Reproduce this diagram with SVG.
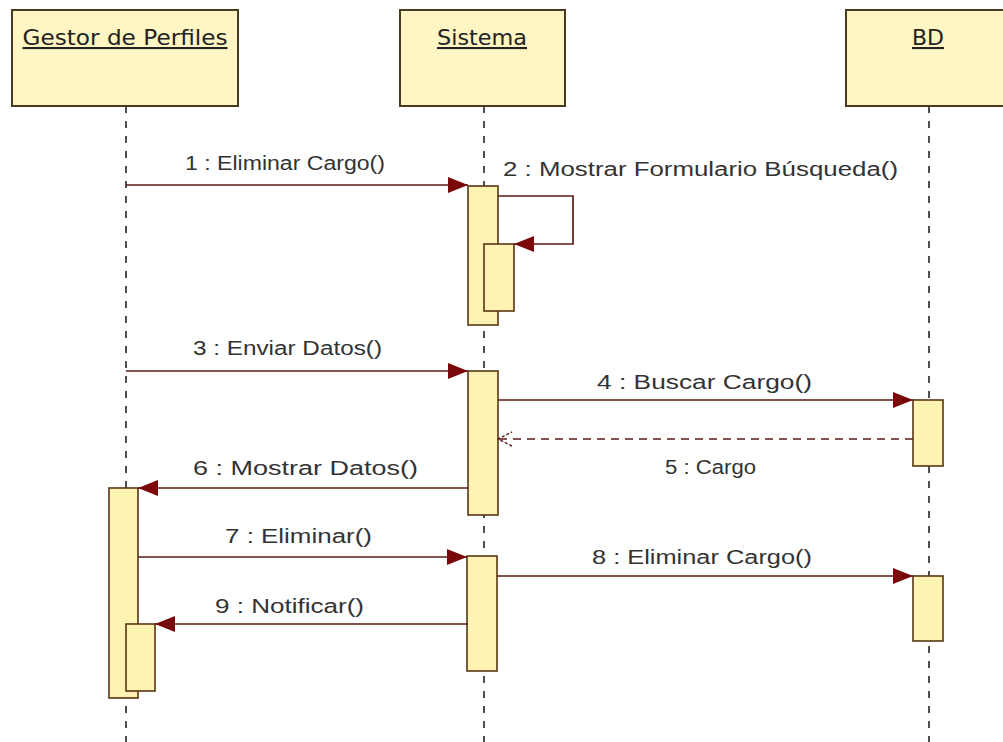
<svg xmlns="http://www.w3.org/2000/svg" width="1003" height="742" viewBox="0 0 1003 742">
<style>
.head{fill:#fff6c4;stroke:#4a3a1e;stroke-width:2}
.bar{fill:#fff3b4;stroke:#5a3512;stroke-width:1.6}
.life{stroke:#222;stroke-width:1.6;stroke-dasharray:7 8;fill:none}
.msg{stroke:#5a1a14;stroke-width:1.7;fill:none}
.ret{stroke:#5a1a14;stroke-width:1.6;fill:none;stroke-dasharray:8 6}
.ht{font-family:"DejaVu Sans",Tahoma,sans-serif;font-size:21px;fill:#222;text-decoration:underline;text-anchor:middle}
.lt{font-family:"Liberation Sans",Arial,sans-serif;font-size:20px;fill:#333}
</style>
<defs>
<marker id="fa" viewBox="0 0 20 16" refX="20" refY="8" markerWidth="20" markerHeight="16" markerUnits="userSpaceOnUse" orient="auto">
<path d="M0,0 L20,8 L0,16 z" fill="#7a0808"/>
</marker>
<marker id="oa" viewBox="0 0 16 16" refX="15" refY="8" markerWidth="16" markerHeight="16" markerUnits="userSpaceOnUse" orient="auto">
<path d="M1,1 L15,8 L1,15" fill="none" stroke="#5a1a14" stroke-width="1.4" stroke-dasharray="3 2"/>
</marker>
</defs>
<rect width="1003" height="742" fill="#ffffff"/>

<g id="lifelines">
<line class="life" x1="126" y1="106" x2="126" y2="742"/>
<line class="life" x1="484" y1="106" x2="484" y2="742"/>
<line class="life" x1="929" y1="106" x2="929" y2="742"/>
</g>

<g id="gestor">
<rect class="head" x="12" y="10" width="226" height="96"/>
<text class="ht" x="125" y="45" textLength="205" lengthAdjust="spacingAndGlyphs">Gestor de Perfiles</text>
<rect class="bar" x="109" y="488" width="29" height="210"/>
<rect class="bar" x="126" y="624" width="29" height="67"/>
</g>

<g id="sistema">
<rect class="head" x="400" y="10" width="165" height="96"/>
<text class="ht" x="482" y="45" textLength="90" lengthAdjust="spacingAndGlyphs">Sistema</text>
<rect class="bar" x="468" y="186" width="30" height="139"/>
<rect class="bar" x="484" y="244" width="30" height="67"/>
<rect class="bar" x="468" y="371" width="30" height="144"/>
<rect class="bar" x="467" y="556" width="30" height="115"/>
</g>

<g id="bd">
<rect class="head" x="846" y="10" width="170" height="96"/>
<text class="ht" x="928" y="45" textLength="32" lengthAdjust="spacingAndGlyphs">BD</text>
<rect class="bar" x="913" y="400" width="30" height="66"/>
<rect class="bar" x="913" y="576" width="30" height="65"/>
</g>

<g id="connectors">
<line class="msg" x1="126" y1="185" x2="468" y2="185" marker-end="url(#fa)"/>
<path class="msg" d="M498,196 H573 V244 H514" marker-end="url(#fa)"/>
<line class="msg" x1="126" y1="371" x2="468" y2="371" marker-end="url(#fa)"/>
<line class="msg" x1="498" y1="400" x2="913" y2="400" marker-end="url(#fa)"/>
<line class="ret" x1="913" y1="439" x2="498" y2="439" marker-end="url(#oa)"/>
<line class="msg" x1="468" y1="488" x2="138" y2="488" marker-end="url(#fa)"/>
<line class="msg" x1="138" y1="557" x2="467" y2="557" marker-end="url(#fa)"/>
<line class="msg" x1="497" y1="576" x2="913" y2="576" marker-end="url(#fa)"/>
<line class="msg" x1="468" y1="624" x2="155" y2="624" marker-end="url(#fa)"/>
</g>

<g id="labels">
<text class="lt" x="185" y="170" textLength="200" lengthAdjust="spacingAndGlyphs">1 : Eliminar Cargo()</text>
<text class="lt" x="503" y="176" textLength="395" lengthAdjust="spacingAndGlyphs">2 : Mostrar Formulario Búsqueda()</text>
<text class="lt" x="193" y="355" textLength="189" lengthAdjust="spacingAndGlyphs">3 : Enviar Datos()</text>
<text class="lt" x="597" y="389" textLength="215" lengthAdjust="spacingAndGlyphs">4 : Buscar Cargo()</text>
<text class="lt" x="665" y="474" textLength="91" lengthAdjust="spacingAndGlyphs">5 : Cargo</text>
<text class="lt" x="193" y="475" textLength="225" lengthAdjust="spacingAndGlyphs">6 : Mostrar Datos()</text>
<text class="lt" x="225" y="543" textLength="147" lengthAdjust="spacingAndGlyphs">7 : Eliminar()</text>
<text class="lt" x="592" y="564" textLength="220" lengthAdjust="spacingAndGlyphs">8 : Eliminar Cargo()</text>
<text class="lt" x="215" y="613" textLength="149" lengthAdjust="spacingAndGlyphs">9 : Notificar()</text>
</g>
</svg>
